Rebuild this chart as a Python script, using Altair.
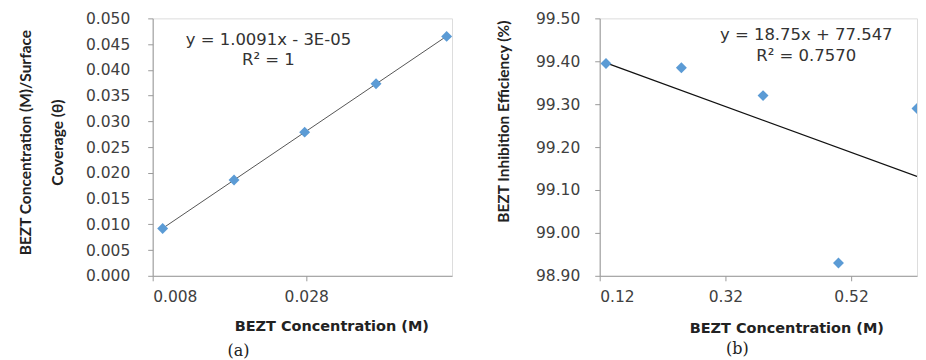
import altair as alt
import pandas as pd

# Panel (a): Langmuir isotherm
conc_a = [0.0093, 0.0186, 0.0278, 0.0371, 0.0463]
ratio_a = [0.0092, 0.0186, 0.0279, 0.0373, 0.0465]
eq_a = ["y = 1.0091x - 3E-05", "R² = 1"]

# Panel (b): inhibition efficiency
conc_b = [0.13, 0.25, 0.38, 0.50, 0.625]
eff_b = [99.395, 99.385, 99.320, 98.930, 99.290]
eq_b = ["y = 18.75x + 77.547", "R² = 0.7570"]

df_a = pd.DataFrame({"x": conc_a, "y": ratio_a})
df_b = pd.DataFrame({"x": conc_b, "y": eff_b})

AX = "#9a9a9a"
LAB = "#404040"
TICKFONT = "DejaVu Sans"
YTFONT = "Lato"

common_axis = dict(
    domainColor=AX, tickColor=AX, tickSize=5, grid=False,
    labelFont=TICKFONT, labelFontSize=15.5, labelColor=LAB,
    titleFont=TICKFONT, titleFontSize=14.5, titleFontWeight="bold", titleColor="#222",
)
yt_style = {**common_axis, "titleFont": YTFONT, "titleFontSize": 15.5}

H = 258

# ---------- panel (a)
xa = alt.X("x:Q", scale=alt.Scale(domain=[0.008, 0.047], nice=False, zero=False),
           axis=alt.Axis(values=[0.008, 0.028], format=".3f", title="BEZT Concentration (M)",
                         titleX=179, titleAlign="center", titlePadding=14, labelPadding=9,
                         **common_axis))
ya = alt.Y("y:Q", scale=alt.Scale(domain=[0, 0.05], nice=False),
           axis=alt.Axis(values=[i * 0.005 for i in range(11)], format=".3f",
                         title=["BEZT Concentration (M)/Surface", "Coverage (θ)"],
                         titleLineHeight=32, titlePadding=20, labelPadding=18, titleY=124,
                         **yt_style))

base_a = alt.Chart(df_a)
line_a = base_a.transform_regression("x", "y").mark_line(color="#555", strokeWidth=1).encode(x=xa, y=ya)
pts_a = base_a.mark_point(shape="diamond", filled=True, size=120, color="#5B9BD5", opacity=1).encode(x=xa, y=ya)
txt_a = alt.Chart(pd.DataFrame({"t": [eq_a]})).mark_text(
    font=TICKFONT, fontSize=16.5, color="#333", lineHeight=20, baseline="middle", align="center"
).encode(text="t:N", x=alt.value(116), y=alt.value(22))

panel_a = alt.layer(line_a, pts_a, txt_a).properties(
    width=300, height=H,
    title=alt.TitleParams("(a)", orient="bottom", font="DejaVu Serif", fontSize=16,
                          fontWeight="normal", color="#222", anchor="middle", offset=10, dx=-64),
)

# ---------- panel (b)
xb = alt.X("x:Q", scale=alt.Scale(domain=[0.12, 0.625], nice=False, zero=False),
           axis=alt.Axis(values=[0.12, 0.32, 0.52], format=".2f", title="BEZT Concentration (M)",
                         titleX=187, titleAlign="center", titlePadding=16, labelPadding=9,
                         **common_axis))
yb = alt.Y("y:Q", scale=alt.Scale(domain=[98.9, 99.5], nice=False, zero=False),
           axis=alt.Axis(values=[98.9, 99.0, 99.1, 99.2, 99.3, 99.4, 99.5], format=".2f",
                         title="BEZT Inhibition Efficiency (%)", titlePadding=24, labelPadding=15,
                         titleY=103, **yt_style))

base_b = alt.Chart(df_b)
line_b = base_b.transform_regression("x", "y").mark_line(color="#111", strokeWidth=1.3, clip=True).encode(x=xb, y=yb)
pts_b = base_b.mark_point(shape="diamond", filled=True, size=120, color="#5B9BD5", opacity=1, clip=True).encode(x=xb, y=yb)
txt_b = alt.Chart(pd.DataFrame({"t": [eq_b]})).mark_text(
    font=TICKFONT, fontSize=16.5, color="#333", lineHeight=21, baseline="middle", align="center"
).encode(text="t:N", x=alt.value(207), y=alt.value(17))

panel_b = alt.layer(line_b, pts_b, txt_b).properties(
    width=318, height=H,
    title=alt.TitleParams("(b)", orient="bottom", font="DejaVu Serif", fontSize=16,
                          fontWeight="normal", color="#222", anchor="middle", offset=6, dx=-21),
)

chart = alt.hconcat(panel_a, panel_b, spacing=43).properties(
    padding={"left": 10, "top": 2, "right": 0, "bottom": 0}
).configure_view(stroke=None).configure(background="white")

chart.save("out.html", embed_options={"renderer": "svg", "actions": False})
